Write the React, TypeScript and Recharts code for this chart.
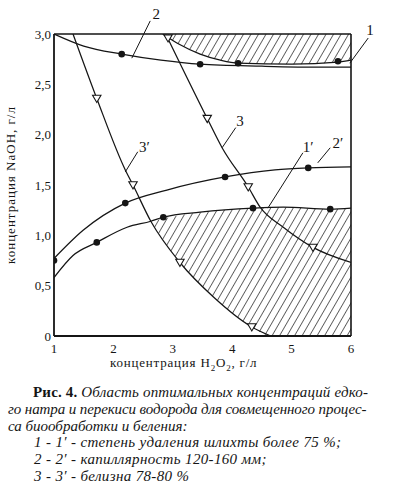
import React from 'react';
import {
  ComposedChart,
  Line,
  Area,
  Scatter,
  XAxis,
  YAxis,
  ReferenceLine,
  ReferenceDot,
} from 'recharts';

// H2O2 (g/l) on x, NaOH (g/l) on y
// curve 1: lower edge of the upper hatched zone
const c1X = [2.83, 3.1, 3.46, 3.8, 4.1, 5.0, 5.78, 6];
const c1Y = [3.0, 2.9, 2.8, 2.74, 2.71, 2.7, 2.72, 2.74];
// curve 2
const c2X = [1, 1.5, 2.14, 2.8, 3.46, 4.5, 5.5, 6];
const c2Y = [3.0, 2.88, 2.8, 2.74, 2.7, 2.68, 2.67, 2.67];
// curve 3
const c3X = [2.88, 3.58, 3.83, 4.27, 4.47, 4.86, 5.36, 6];
const c3Y = [3.0, 2.16, 1.87, 1.48, 1.28, 1.08, 0.88, 0.73];
// curve 1'
const c1pX = [1, 1.32, 1.72, 2.23, 2.63, 2.84, 3.46, 4.35, 4.86, 5.65, 6];
const c1pY = [0.58, 0.8, 0.93, 1.08, 1.14, 1.18, 1.23, 1.27, 1.28, 1.26, 1.27];
// curve 2'
const c2pX = [1, 1.49, 2.2, 2.9, 3.88, 4.72, 5.28, 6];
const c2pY = [0.77, 1.05, 1.32, 1.45, 1.58, 1.65, 1.67, 1.68];
// curve 3'
const c3pX = [1.32, 1.72, 2.2, 2.33, 2.63, 3.12, 3.68, 4.33, 4.65];
const c3pY = [3.0, 2.36, 1.65, 1.5, 1.14, 0.73, 0.39, 0.09, 0.0];

// lower hatched zone (between 3' / x-axis and 1')
const lowZoneX = [2.63, 3.12, 3.68, 4.33, 4.65, 4.86, 5.65, 6];
const lowZoneMin = [1.14, 0.73, 0.39, 0.09, 0, 0, 0, 0];
const lowZoneMax = [1.14, 1.2, 1.245, 1.27, 1.275, 1.28, 1.26, 1.27];

// experimental points
const dotX = [2.14, 3.46, 4.1, 5.78, 1, 2.2, 3.88, 5.28, 1.72, 2.84, 4.35, 5.65];
const dotY = [2.8, 2.7, 2.71, 2.73, 0.75, 1.32, 1.58, 1.67, 0.93, 1.18, 1.27, 1.26];
const triX = [2.92, 3.58, 4.27, 5.36, 1.72, 2.33, 3.12, 4.33];
const triY = [2.96, 2.16, 1.48, 0.88, 2.36, 1.5, 0.73, 0.09];

const xTicks = [1, 2, 3, 4, 5, 6];
const yTicks = [0, 0.5, 1, 1.5, 2, 2.5, 3];
const yMax = 3;

// curve labels with leader lines
const notes = [
  { text: '1', tx: 6.32, ty: 3.04, from: [6.29, 2.96], to: [5.98, 2.71] },
  { text: '2', tx: 2.72, ty: 3.2, from: [2.62, 3.13], to: [2.31, 2.76] },
  { text: '3', tx: 4.13, ty: 2.14, from: [4.06, 2.07], to: [3.83, 1.87] },
  { text: '3′', tx: 2.52, ty: 1.88, from: [2.41, 1.83], to: [2.2, 1.63] },
  { text: '1′', tx: 5.28, ty: 1.88, from: [5.19, 1.82], to: [4.6, 1.27] },
  { text: '2′', tx: 5.78, ty: 1.92, from: [5.65, 1.87], to: [5.44, 1.72] },
];

const pts = (xs: number[], ys: number[]) => xs.map((x, i) => ({ x, y: ys[i] }));

const topZone = c1X.map((x, i) => ({ x, band: [c1Y[i], yMax] }));
const lowZone = lowZoneX.map((x, i) => ({ x, band: [lowZoneMin[i], lowZoneMax[i]] }));

const curves = [
  pts(c1X, c1Y),
  pts(c2X, c2Y),
  pts(c3X, c3Y),
  pts(c1pX, c1pY),
  pts(c2pX, c2pY),
  pts(c3pX, c3pY),
];

const INK = '#151515';
const SERIF = '"Liberation Serif", "DejaVu Serif", serif';

const DotMark = (p: any) => <circle cx={p.cx} cy={p.cy} r={3.3} fill={INK} />;
const TriMark = (p: any) => (
  <path
    d={`M${p.cx - 4.2},${p.cy - 3.2} L${p.cx + 4.2},${p.cy - 3.2} L${p.cx},${p.cy + 4} Z`}
    fill="#fff"
    stroke={INK}
    strokeWidth={1.1}
  />
);

const fmtY = (v: number) => (v === 0 ? '0' : v.toFixed(1).replace('.', ','));

const captionLine: React.CSSProperties = {
  position: 'absolute',
  whiteSpace: 'nowrap',
  fontStyle: 'italic',
  fontSize: 15,
  lineHeight: '16.8px',
};

const App = () => {
  return (
    <div
      style={{
        position: 'absolute',
        left: 0,
        top: 0,
        width: 398,
        height: 485,
        background: '#fff',
        fontFamily: SERIF,
        color: INK,
        overflow: 'hidden',
      }}
    >
      <div style={{ position: 'absolute', left: 0, top: 0 }}>
        <ComposedChart
          width={398}
          height={372}
          margin={{ top: 34, right: 47, bottom: 6, left: 8 }}
          style={{ fontFamily: SERIF }}
        >
          <defs>
            <pattern
              id="hatch"
              patternUnits="userSpaceOnUse"
              width={6.5}
              height={6.5}
              patternTransform="rotate(30)"
            >
              <line x1={0} y1={0} x2={0} y2={6.5} stroke={INK} strokeWidth={1.3} />
            </pattern>
          </defs>
          <XAxis
            dataKey="x"
            type="number"
            domain={[1, 6]}
            ticks={xTicks}
            allowDataOverflow
            height={30}
            axisLine={{ stroke: INK, strokeWidth: 1.8 }}
            tickLine={false}
            tickSize={4}
            tickMargin={4}
            tick={{ fill: INK, fontSize: 13, fontFamily: SERIF }}
          />
          <YAxis
            type="number"
            domain={[0, yMax]}
            ticks={yTicks}
            allowDataOverflow
            width={46}
            axisLine={{ stroke: INK, strokeWidth: 1.8 }}
            tickLine={false}
            tickSize={2}
            tickMargin={1}
            tickFormatter={fmtY}
            tick={{ fill: INK, fontSize: 13, fontFamily: SERIF }}
          />
          <Area
            data={topZone}
            dataKey="band"
            type="monotone"
            stroke="none"
            fill="url(#hatch)"
            fillOpacity={1}
            isAnimationActive={false}
          />
          <Area
            data={lowZone}
            dataKey="band"
            type="monotone"
            stroke="none"
            fill="url(#hatch)"
            fillOpacity={1}
            isAnimationActive={false}
          />
          <ReferenceLine y={yMax} stroke={INK} strokeWidth={1.6} />
          <ReferenceLine x={6} stroke={INK} strokeWidth={1.6} />
          {curves.map((d, i) => (
            <Line
              key={i}
              data={d}
              dataKey="y"
              type="monotone"
              stroke={INK}
              strokeWidth={1.25}
              dot={false}
              activeDot={false}
              isAnimationActive={false}
            />
          ))}
          <Scatter data={pts(dotX, dotY)} dataKey="y" shape={DotMark} isAnimationActive={false} />
          <Scatter data={pts(triX, triY)} dataKey="y" shape={TriMark} isAnimationActive={false} />
          {notes.map((n, i) => (
            <ReferenceLine
              key={'l' + i}
              segment={[
                { x: n.from[0], y: n.from[1] },
                { x: n.to[0], y: n.to[1] },
              ]}
              stroke={INK}
              strokeWidth={1}
              ifOverflow="visible"
            />
          ))}
          {notes.map((n, i) => (
            <ReferenceDot
              key={'t' + i}
              x={n.tx}
              y={n.ty}
              r={0}
              ifOverflow="visible"
              shape={(p: any) => (
                <text
                  x={p.cx}
                  y={p.cy}
                  textAnchor="middle"
                  dominantBaseline="central"
                  fontSize={15}
                  fontFamily={SERIF}
                  fill={INK}
                >
                  {n.text}
                </text>
              )}
            />
          ))}
        </ComposedChart>
      </div>

      {/* y axis title */}
      <div style={{ position: 'absolute', left: 11, top: 185, width: 0, height: 0 }}>
        <span
          style={{
            position: 'absolute',
            left: 0,
            top: 0,
            whiteSpace: 'nowrap',
            fontSize: 13,
            letterSpacing: 1,
            transform: 'translate(-50%, -50%) rotate(-90deg)',
          }}
        >
          концентрация NaOH, г/л
        </span>
      </div>

      {/* x axis title */}
      <div
        style={{
          position: 'absolute',
          left: 110,
          top: 355,
          whiteSpace: 'nowrap',
          fontSize: 13,
          lineHeight: '16px',
          letterSpacing: 0.8,
        }}
      >
        концентрация H<sub style={{ fontSize: 9, lineHeight: 0 }}>2</sub>O
        <sub style={{ fontSize: 9, lineHeight: 0 }}>2</sub>, г/л
      </div>

      {/* caption */}
      <div style={{ ...captionLine, left: 33, top: 384, letterSpacing: 0.17 }}>
        <span style={{ fontStyle: 'normal', fontWeight: 'bold' }}>Рис. 4.</span> Область оптимальных
        концентраций едко-
      </div>
      <div style={{ ...captionLine, left: 8, top: 400.8, letterSpacing: -0.1 }}>
        го натра и перекиси водорода для совмещенного процес-
      </div>
      <div style={{ ...captionLine, left: 8, top: 417.6 }}>са биообработки и беления:</div>
      <div style={{ ...captionLine, left: 34, top: 434.4, letterSpacing: 0.35 }}>
        1 - 1′ - степень удаления шлихты более 75 %;
      </div>
      <div style={{ ...captionLine, left: 34, top: 451.2, letterSpacing: 0.35 }}>
        2 - 2′ - капиллярность 120-160 мм;
      </div>
      <div style={{ ...captionLine, left: 34, top: 468, letterSpacing: 0.35 }}>
        3 - 3′ - белизна 78-80 %
      </div>
    </div>
  );
};

export default App;
